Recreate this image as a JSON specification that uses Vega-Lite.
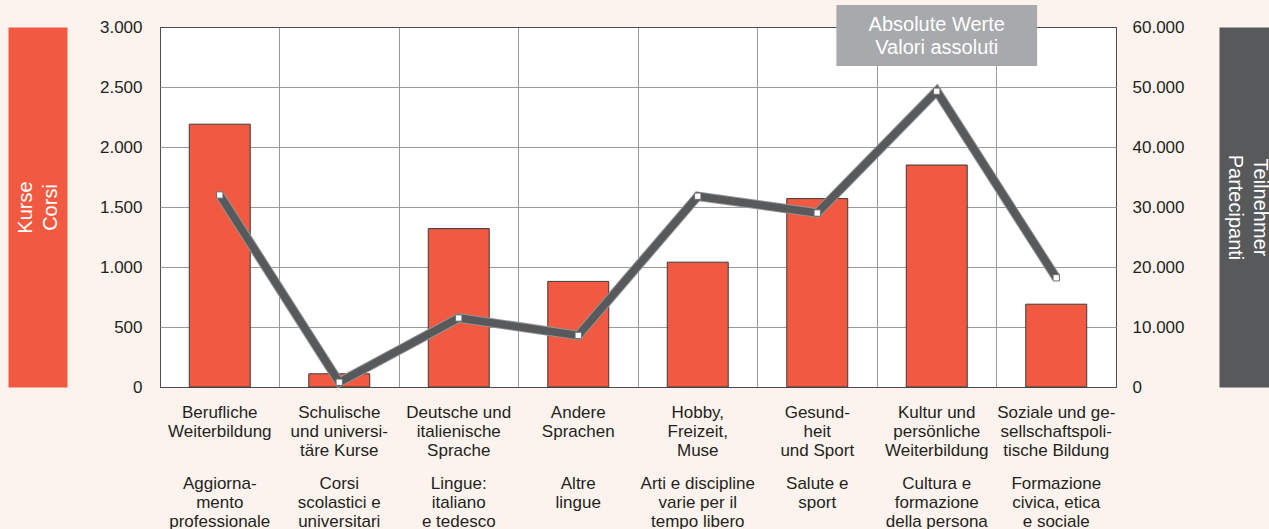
{
  "$schema": "https://vega.github.io/schema/vega-lite/v6.json",
  "width": 956,
  "height": 360,
  "autosize": {"type": "none"},
  "padding": {"left": 160, "top": 27, "right": 153, "bottom": 142},
  "background": "#fdf3ee",
  "config": {
    "view": {"fill": "white", "stroke": "#4d4d4d", "strokeWidth": 1},
    "font": "Liberation Sans",
    "axis": {"labelFont": "Liberation Sans", "labelFontSize": 17, "labelColor": "#231f20", "titleFont": "Liberation Sans", "titleFontWeight": "normal"}
  },
  "data": {
    "values": [
      {"cat": "Berufliche|Weiterbildung##Aggiorna-|mento|professionale", "kurse": 2190, "teilnehmer": 32000},
      {"cat": "Schulische|und universi-|täre Kurse##Corsi|scolastici e|universitari", "kurse": 110, "teilnehmer": 800},
      {"cat": "Deutsche und|italienische|Sprache##Lingue:|italiano|e tedesco", "kurse": 1320, "teilnehmer": 11500},
      {"cat": "Andere|Sprachen##Altre|lingue", "kurse": 880, "teilnehmer": 8600},
      {"cat": "Hobby,|Freizeit,|Muse##Arti e discipline|varie per il|tempo libero", "kurse": 1040, "teilnehmer": 31800},
      {"cat": "Gesund-|heit|und Sport##Salute e|sport", "kurse": 1570, "teilnehmer": 29000},
      {"cat": "Kultur und|persönliche|Weiterbildung##Cultura e|formazione|della persona", "kurse": 1850, "teilnehmer": 49300},
      {"cat": "Soziale und ge-|sellschaftspoli-|tische Bildung##Formazione|civica, etica|e sociale", "kurse": 690, "teilnehmer": 18200}
    ]
  },
  "layer": [
    {
      "mark": {"type": "bar", "width": {"band": 0.51}, "fill": "#f15a40", "stroke": "#3a3a3a", "strokeWidth": 1},
      "encoding": {
        "x": {
          "field": "cat", "type": "nominal", "sort": null,
          "scale": {"paddingInner": 0, "paddingOuter": 0},
          "axis": {
            "title": null, "orient": "bottom", "grid": true, "bandPosition": 0,
            "gridColor": {"condition": {"test": "datum.index === 0", "value": "#4d4d4d"}, "value": "#9a9a9a"},
            "gridWidth": 1, "ticks": false, "domain": false, "labelAngle": 0,
            "labelPadding": 17.6, "labelLineHeight": 19, "labelBaseline": "top",
            "labelExpr": "split(split(datum.label, '##')[0], '|')",
            "labelOverlap": false, "labelBound": false, "labelFlush": false, "labelLimit": 300
          }
        },
        "y": {
          "field": "kurse", "type": "quantitative",
          "scale": {"domain": [0, 3000], "nice": false},
          "axis": {
            "title": null, "orient": "left", "values": [0, 500, 1000, 1500, 2000, 2500, 3000],
            "grid": true,
            "gridColor": {"condition": {"test": "datum.value === 0 || datum.value === 3000", "value": "#4d4d4d"}, "value": "#9a9a9a"},
            "domain": false, "ticks": false, "labelPadding": 18, "format": ",d",
            "labelExpr": "replace(datum.label, ',', '.')"
          }
        }
      }
    },
    {
      "mark": {"type": "line", "color": "#939496", "strokeWidth": 9.5},
      "encoding": {
        "x": {"field": "cat", "type": "nominal", "sort": null, "scale": {"paddingInner": 0, "paddingOuter": 0}, "axis": null},
        "y": {"field": "teilnehmer", "type": "quantitative", "scale": {"domain": [0, 60000], "nice": false}, "axis": null}
      }
    },
    {
      "mark": {
        "type": "line", "color": "#58595b", "strokeWidth": 7.5,
        "point": {"shape": "square", "filled": true, "fill": "white", "stroke": "#6d6e70", "strokeWidth": 1, "size": 40}
      },
      "encoding": {
        "x": {
          "field": "cat", "type": "nominal", "sort": null,
          "scale": {"paddingInner": 0, "paddingOuter": 0},
          "axis": {
            "title": null, "orient": "bottom", "grid": false, "ticks": false, "domain": false, "labelAngle": 0,
            "labelPadding": 88.6, "labelLineHeight": 19, "labelBaseline": "top",
            "labelExpr": "split(split(datum.label, '##')[1], '|')",
            "labelOverlap": false, "labelBound": false, "labelFlush": false, "labelLimit": 300
          }
        },
        "y": {
          "field": "teilnehmer", "type": "quantitative",
          "scale": {"domain": [0, 60000], "nice": false},
          "axis": {
            "title": null, "orient": "right", "values": [0, 10000, 20000, 30000, 40000, 50000, 60000],
            "grid": false, "domain": false, "ticks": false, "labelPadding": 16, "format": ",d",
            "labelExpr": "replace(datum.label, ',', '.')"
          }
        }
      }
    },
    {
      "data": {"values": [{"cat": "Kultur und|persönliche|Weiterbildung##Cultura e|formazione|della persona", "note": "Absolute Werte"}]},
      "mark": {"type": "bar", "width": {"band": 1.68}, "fill": "#a7a9ac"},
      "encoding": {
        "x": {"field": "cat", "type": "nominal", "sort": null, "scale": {"paddingInner": 0, "paddingOuter": 0}, "axis": null},
        "y": {
          "datum": 2675, "type": "quantitative",
          "scale": {"domain": [0, 3000], "nice": false},
          "axis": {
            "orient": "left", "offset": 122.5, "domain": true, "domainColor": "#f15a40", "domainWidth": 59, "domainCap": "butt",
            "labels": false, "ticks": false, "grid": false,
            "title": ["Kurse", "Corsi"], "titleColor": "white", "titleFontSize": 20, "titleAngle": -90,
            "titleX": -12, "titleY": 180, "titleAlign": "center", "titleBaseline": "middle", "titleLineHeight": 25
          }
        },
        "y2": {"datum": 3183}
      }
    },
    {
      "data": {"values": [{"cat": "Kultur und|persönliche|Weiterbildung##Cultura e|formazione|della persona", "note": "Valori assoluti"}]},
      "mark": {"type": "text", "color": "white", "fontSize": 20, "font": "Liberation Sans", "lineHeight": 23, "baseline": "middle", "align": "center"},
      "encoding": {
        "x": {"field": "cat", "type": "nominal", "sort": null, "scale": {"paddingInner": 0, "paddingOuter": 0}, "axis": null},
        "y": {
          "datum": 3015, "type": "quantitative",
          "scale": {"domain": [0, 3000], "nice": false},
          "axis": {
            "orient": "right", "offset": 130.5, "domain": true, "domainColor": "#58595b", "domainWidth": 55, "domainCap": "butt",
            "labels": false, "ticks": false, "grid": false,
            "title": ["Teilnehmer", "Partecipanti"], "titleColor": "white", "titleFontSize": 20, "titleAngle": 90,
            "titleX": 12.5, "titleY": 180, "titleAlign": "center", "titleBaseline": "middle", "titleLineHeight": 25
          }
        },
        "text": {"value": ["Absolute Werte", "Valori assoluti"]}
      }
    }
  ],
  "resolve": {"scale": {"y": "independent"}, "axis": {"x": "independent", "y": "independent"}}
}
